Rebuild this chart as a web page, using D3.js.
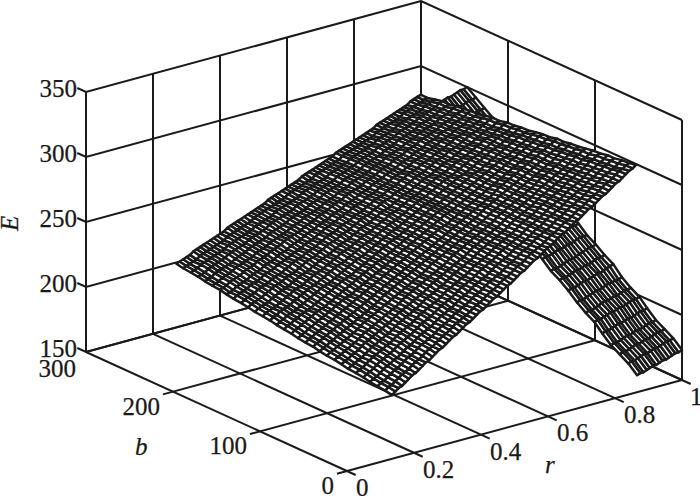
<!DOCTYPE html>
<html>
<head>
<meta charset="utf-8">
<script src="https://cdn.jsdelivr.net/npm/d3@7"></script>
<style>
  body { margin: 0; background: #fff; }
  text { font-family: "Liberation Serif", serif; font-size: 25px; fill: #1a1a1a; stroke: #1a1a1a; stroke-width: 0.25px; }
</style>
</head>
<body>
<div id="chart"></div>
<script>
// tick labels
var rTicks = [0, 0.2, 0.4, 0.6, 0.8, 1];
var bTicks = [0, 100, 200, 300];
var eTicks = [150, 200, 250, 300, 350];

// main sheet: one row per b, each row starts at its own r
var sheetB = [0,10,20,30,40,50,60,70,80,90,100,110,120,130,140,150,160,170,180,190,200,210,220,230,240,250,260,270,280,290,300];
var sheetRowStart = [0.134,0.140,0.143,0.147,0.153,0.157,0.160,0.166,0.171,0.174,0.179,0.185,0.188,0.192,0.198,0.202,0.206,0.212,0.216,0.219,0.225,0.230,0.233,0.238,0.244,0.247,0.251,0.257,0.261,0.264,0.270];
var sheetRStep = 0.010125;
var sheetE = [
[199,201,203,204,206,208,210,211,213,215,217,218,220,222,224,225,227,229,231,232,234,236,238,239,241,243,245,246,248,250,252,253,255,257,259,260,262,264,266,267,269,271,273,274,276,278,280,281,283,285,287,288,290,292,294,295,297,299,301,302,304,306,308,309,311,313,315,316,318,320,322,323,325],
[199,201,202,204,206,208,209,211,213,215,216,218,220,222,223,225,227,229,230,232,234,236,237,239,240,242,244,246,247,249,251,253,254,256,258,260,261,263,265,267,268,270,272,274,275,277,278,280,282,284,285,287,289,291,292,294,296,298,299,301,303,305,306,308,310,312,313,315,317,319,320,322,323],
[199,201,202,204,206,208,209,211,213,215,216,218,220,222,223,225,226,228,230,232,233,235,237,239,240,242,243,245,247,249,250,252,254,256,257,259,260,262,264,266,267,269,271,273,274,276,278,280,281,283,284,286,288,290,291,293,295,297,298,300,301,303,305,307,308,310,312,314,315,317,318,320,322],
[199,201,202,204,206,208,209,211,212,214,216,218,219,221,223,225,226,228,229,231,233,235,236,238,239,241,243,245,246,248,250,252,253,255,256,258,260,262,263,265,266,268,270,272,273,275,276,278,280,282,283,285,287,289,290,292,293,295,297,299,300,302,303,305,307,309,310,312,314,316,317,319,320],
[199,201,202,204,206,208,209,211,212,214,216,218,219,221,222,224,226,228,229,231,232,234,236,238,239,241,242,244,246,248,249,251,252,254,256,258,259,261,262,264,266,268,269,271,272,274,275,277,279,281,282,284,285,287,289,291,292,294,295,297,299,301,302,304,305,307,309,311,312,314,315,317,319],
[199,201,202,204,206,208,209,211,212,214,215,217,219,221,222,224,225,227,229,231,232,234,235,237,238,240,242,244,245,247,248,250,251,253,255,257,258,260,261,263,265,267,268,270,271,273,274,276,278,280,281,283,284,286,288,290,291,293,294,296,297,299,301,303,304,306,307,309,311,313,314,316,317],
[199,201,202,204,205,207,209,211,212,214,215,217,218,220,222,224,225,227,228,230,231,233,235,237,238,240,241,243,244,246,248,250,251,253,254,256,257,259,261,263,264,266,267,269,270,272,273,275,277,279,280,282,283,285,286,288,290,292,293,295,296,298,299,301,303,305,306,308,309,311,312,314,316],
[199,201,202,204,205,207,209,211,212,214,215,217,218,220,221,223,225,227,228,230,231,233,234,236,237,239,241,243,244,246,247,249,250,252,253,255,256,258,260,262,263,265,266,268,269,271,272,274,276,278,279,281,282,284,285,287,288,290,292,294,295,297,298,300,301,303,304,306,308,310,311,313,314],
[199,201,202,204,205,207,208,210,212,214,215,217,218,220,221,223,224,226,227,229,231,233,234,236,237,239,240,242,243,245,246,248,249,251,253,255,256,258,259,261,262,264,265,267,268,270,271,273,275,277,278,280,281,283,284,286,287,289,290,292,294,296,297,299,300,302,303,305,306,308,309,311,312],
[199,201,202,204,205,207,208,210,211,213,215,217,218,220,221,223,224,226,227,229,230,232,233,235,236,238,239,241,242,244,246,248,249,251,252,254,255,257,258,260,261,263,264,266,267,269,270,272,274,276,277,279,280,282,283,285,286,288,289,291,292,294,295,297,298,300,301,303,305,307,308,310,311],
[199,201,202,204,205,207,208,210,211,213,214,216,217,219,220,222,223,225,227,229,230,232,233,235,236,238,239,241,242,244,245,247,248,250,251,253,254,256,257,259,260,262,263,265,266,268,269,271,273,275,276,278,279,281,282,284,285,287,288,290,291,293,294,296,297,299,300,302,303,305,306,308,309],
[199,201,202,204,205,207,208,210,211,213,214,216,217,219,220,222,223,225,226,228,229,231,232,234,235,237,238,240,241,243,244,246,247,249,250,252,253,255,256,258,259,261,262,264,265,267,268,270,271,273,274,276,277,279,281,283,284,286,287,289,290,292,293,295,296,298,299,301,302,304,305,307,308],
[199,201,202,204,205,207,208,210,211,213,214,216,217,219,220,222,223,225,226,228,229,231,232,234,235,237,238,240,241,243,244,246,247,249,250,252,253,255,256,258,259,260,261,263,264,266,267,269,270,272,273,275,276,278,279,281,282,284,285,287,288,290,291,293,294,296,297,299,300,302,303,305,306],
[199,201,202,204,205,207,208,210,211,213,214,216,217,219,220,221,222,224,225,227,228,230,231,233,234,236,237,239,240,242,243,245,246,248,249,251,252,254,255,257,258,260,261,263,264,265,266,268,269,271,272,274,275,277,278,280,281,283,284,286,287,289,290,292,293,295,296,298,299,301,302,304,305],
[199,201,202,204,205,207,208,210,211,212,213,215,216,218,219,221,222,224,225,227,228,230,231,233,234,236,237,238,239,241,242,244,245,247,248,250,251,253,254,256,257,259,260,262,263,264,265,267,268,270,271,273,274,276,277,279,280,282,283,285,286,288,289,290,291,293,294,296,297,299,300,302,303],
[199,201,202,204,205,207,208,209,210,212,213,215,216,218,219,221,222,224,225,226,227,229,230,232,233,235,236,238,239,241,242,244,245,246,247,249,250,252,253,255,256,258,259,261,262,263,264,266,267,269,270,272,273,275,276,278,279,280,281,283,284,286,287,289,290,292,293,295,296,298,299,300,301],
[199,201,202,204,205,206,207,209,210,212,213,215,216,218,219,220,221,223,224,226,227,229,230,232,233,234,235,237,238,240,241,243,244,246,247,248,249,251,252,254,255,257,258,260,261,262,263,265,266,268,269,271,272,274,275,276,277,279,280,282,283,285,286,288,289,290,291,293,294,296,297,299,300],
[199,201,202,204,205,206,207,209,210,212,213,215,216,217,218,220,221,223,224,226,227,228,229,231,232,234,235,237,238,239,240,242,243,245,246,248,249,250,251,253,254,256,257,259,260,261,262,264,265,267,268,270,271,272,273,275,276,278,279,281,282,283,284,286,287,289,290,292,293,294,295,297,298],
[199,201,202,203,204,206,207,209,210,212,213,214,215,217,218,220,221,222,223,225,226,228,229,231,232,233,234,236,237,239,240,241,242,244,245,247,248,250,251,252,253,255,256,258,259,260,261,263,264,266,267,269,270,271,272,274,275,277,278,279,280,282,283,285,286,288,289,290,291,293,294,296,297],
[199,201,202,203,204,206,207,209,210,211,212,214,215,217,218,219,220,222,223,225,226,227,228,230,231,233,234,235,236,238,239,241,242,243,244,246,247,249,250,251,252,254,255,257,258,259,260,262,263,265,266,267,268,270,271,273,274,275,276,278,279,281,282,283,284,286,287,289,290,291,292,294,295],
[199,201,202,203,204,206,207,209,210,211,212,214,215,216,217,219,220,222,223,224,225,227,228,230,231,232,233,235,236,237,238,240,241,243,244,245,246,248,249,251,252,253,254,256,257,258,259,261,262,264,265,266,267,269,270,272,273,274,275,277,278,279,280,282,283,285,286,287,288,290,291,293,294],
[199,201,202,203,204,206,207,208,209,211,212,213,214,216,217,219,220,221,222,224,225,226,227,229,230,232,233,234,235,237,238,239,240,242,243,244,245,247,248,250,251,252,253,255,256,257,258,260,261,263,264,265,266,268,269,270,271,273,274,275,276,278,279,281,282,283,284,286,287,288,289,291,292],
[199,201,202,203,204,206,207,208,209,211,212,213,214,216,217,218,219,221,222,223,224,226,227,228,229,231,232,234,235,236,237,239,240,241,242,244,245,246,247,249,250,251,252,254,255,256,257,259,260,261,262,264,265,267,268,269,270,272,273,274,275,277,278,279,280,282,283,284,285,287,288,289,290],
[199,200,201,203,204,205,206,208,209,210,211,213,214,215,216,218,219,220,221,223,224,225,226,228,229,230,231,233,234,235,236,238,239,240,241,243,244,245,246,248,249,250,251,253,254,255,256,258,259,260,261,263,264,265,266,268,269,270,271,273,274,275,276,278,279,280,281,283,284,285,286,288,289],
[199,200,201,203,204,205,206,208,209,210,211,213,214,215,216,218,219,220,221,223,224,225,226,227,228,230,231,232,233,235,236,237,238,240,241,242,243,245,246,247,248,249,250,252,253,254,255,257,258,259,260,262,263,264,265,267,268,269,270,272,273,274,275,276,277,279,280,281,282,284,285,286,287],
[199,200,201,203,204,205,206,208,209,210,211,212,213,215,216,217,218,220,221,222,223,224,225,227,228,229,230,232,233,234,235,236,237,239,240,241,242,244,245,246,247,249,250,251,252,253,254,256,257,258,259,261,262,263,264,265,266,268,269,270,271,273,274,275,276,277,278,280,281,282,283,285,286],
[199,200,201,203,204,205,206,207,208,210,211,212,213,215,216,217,218,219,220,222,223,224,225,226,227,229,230,231,232,233,234,236,237,238,239,241,242,243,244,245,246,248,249,250,251,252,253,255,256,257,258,259,260,262,263,264,265,267,268,269,270,271,272,274,275,276,277,278,279,281,282,283,284],
[199,200,201,203,204,205,206,207,208,210,211,212,213,214,215,217,218,219,220,221,222,224,225,226,227,228,229,230,231,233,234,235,236,237,238,240,241,242,243,244,245,247,248,249,250,251,252,254,255,256,257,258,259,261,262,263,264,265,266,268,269,270,271,272,273,275,276,277,278,279,280,282,283],
[199,200,201,203,204,205,206,207,208,209,210,212,213,214,215,216,217,218,219,221,222,223,224,225,226,228,229,230,231,232,233,234,235,237,238,239,240,241,242,243,244,246,247,248,249,250,251,253,254,255,256,257,258,259,260,262,263,264,265,266,267,269,270,271,272,273,274,275,276,278,279,280,281],
[199,200,201,202,203,205,206,207,208,209,210,211,212,214,215,216,217,218,219,220,221,223,224,225,226,227,228,229,230,231,232,234,235,236,237,238,239,240,241,243,244,245,246,247,248,249,250,252,253,254,255,256,257,258,259,260,261,263,264,265,266,267,268,269,270,272,273,274,275,276,277,278,279],
[199,200,201,202,203,205,206,207,208,209,210,211,212,213,214,216,217,218,219,220,221,222,223,224,225,226,227,229,230,231,232,233,234,235,236,237,238,240,241,242,243,244,245,246,247,248,249,251,252,253,254,255,256,257,258,259,260,261,262,264,265,266,267,268,269,270,271,272,273,275,276,277,278]
];

// fin behind the sheet, high r end
var finR = [0.866,0.876,0.885,0.895,0.904,0.914,0.923,0.933,0.942,0.952,0.961,0.971,0.98,0.99,1];
var finB = [0,10,20,30,40,49,59,69,79,89,99,109,119,128,138,148,158,168,178,188,198,207,217,227,237,247];
var finE = [
[163,164,164,165,166,167,167,168,169,169,170,171,172,172,173],
[169,170,170,171,172,173,173,174,175,175,176,177,178,178,179],
[173,174,174,175,176,177,177,178,179,179,180,181,182,182,183],
[177,178,178,179,180,181,181,182,183,183,184,185,186,186,187],
[183,184,184,185,186,187,187,188,189,189,190,191,192,192,193],
[189,190,190,191,192,193,193,194,195,195,196,197,198,198,199],
[193,194,194,195,196,197,198,198,199,200,200,201,202,202,203],
[198,199,199,200,201,202,203,203,204,205,206,206,207,207,208],
[204,205,205,206,207,208,208,209,210,211,211,212,213,214,215],
[209,210,210,211,212,213,213,214,215,215,216,217,218,218,219],
[213,214,214,215,216,217,218,218,219,220,221,222,223,223,224],
[219,220,220,221,222,223,223,224,225,225,226,227,228,228,228],
[224,225,225,226,227,228,228,229,230,230,231,232,233,233,234],
[229,230,230,231,232,233,233,234,235,235,236,237,238,239,240],
[234,235,235,236,237,238,238,239,240,240,241,242,243,243,244],
[239,240,240,241,242,243,243,244,245,245,246,247,248,248,249],
[244,245,245,246,247,248,249,249,250,251,252,252,253,253,254],
[249,250,251,251,252,253,254,254,255,256,257,257,258,258,259],
[254,255,255,256,257,258,258,259,260,260,261,262,263,264,265],
[260,261,261,262,263,264,264,265,266,266,267,268,269,269,270],
[265,266,266,267,268,269,269,270,271,271,272,273,274,274,275],
[270,271,271,272,273,274,274,275,276,276,277,278,279,279,280],
[275,276,276,277,278,279,279,280,281,281,282,283,284,284,285],
[280,281,281,282,283,284,284,285,286,286,287,288,289,289,290],
[285,286,286,287,288,289,289,290,291,291,292,293,294,294,295],
[290,291,291,292,293,294,294,295,296,296,297,298,299,299,300]
];

var ink = "#1a1a1a";

var svg = d3.select("#chart").append("svg")
  .attr("width", 700)
  .attr("height", 496);

// oblique projection, front floor corner is r=0 b=0 E=150
var originX = 347, originY = 471;
var rX = d3.scaleLinear().domain([0, 1]).range([0, 335]);
var rY = d3.scaleLinear().domain([0, 1]).range([0, -91]);
var bX = d3.scaleLinear().domain([0, 300]).range([0, -261]);
var bY = d3.scaleLinear().domain([0, 300]).range([0, -119]);
var eY = d3.scaleLinear().domain([150, 350]).range([0, -260]);

function project(r, b, e) {
  return [originX + rX(r) + bX(b), originY + rY(r) + bY(b) + eY(e)];
}

var line = d3.line();

function drawLine(points) {
  svg.append("path")
    .attr("d", line(points.map(function (p) { return project(p[0], p[1], p[2]); })))
    .attr("fill", "none")
    .attr("stroke", ink)
    .attr("stroke-width", 2);
}

// walls
rTicks.forEach(function (r) {
  drawLine([[r, 300, 150], [r, 300, 350]]);
});
bTicks.forEach(function (b) {
  drawLine([[1, b, 150], [1, b, 350]]);
});
eTicks.forEach(function (e) {
  drawLine([[0, 310, e], [0, 300, e], [1, 300, e], [1, 0, e]]);
});

// floor
rTicks.forEach(function (r) {
  drawLine([[r, -10, 150], [r, 300, 150]]);
});
bTicks.forEach(function (b) {
  drawLine([[b < 300 ? -0.03 : 0, b, 150], [1, b, 150]]);
});

function drawMesh(cornerAt, rows, cols) {
  var g = svg.append("g")
    .attr("fill", "#fff")
    .attr("stroke", ink)
    .attr("stroke-width", 2.5)
    .attr("stroke-linejoin", "round");
  for (var i = rows - 2; i >= 0; i--) {
    for (var j = 0; j < cols - 1; j++) {
      g.append("path")
        .attr("d", line([cornerAt(i, j), cornerAt(i, j + 1), cornerAt(i + 1, j + 1), cornerAt(i + 1, j)]) + "Z");
    }
  }
}

drawMesh(function (i, j) {
  return project(finR[j], finB[i], finE[i][j]);
}, finB.length, finR.length);

drawMesh(function (i, j) {
  return project(sheetRowStart[i] + j * sheetRStep, sheetB[i], sheetE[i][j]);
}, sheetB.length, d3.min(sheetE, function (d) { return d.length; }));

// tick labels
eTicks.forEach(function (e) {
  var p = project(0, 300, e);
  svg.append("text").attr("x", p[0] - 9).attr("y", p[1] + 5)
    .attr("text-anchor", "end").text(e);
});
bTicks.forEach(function (b) {
  var p = project(0, b, 150);
  svg.append("text").attr("x", p[0] - (b == 300 ? 10 : 13)).attr("y", p[1] + (b == 300 ? 25 : 23))
    .attr("text-anchor", "end").text(b);
});
rTicks.forEach(function (r) {
  var p = project(r, 0, 150);
  svg.append("text").attr("x", p[0] + (r == 1 ? 8 : 9)).attr("y", p[1] + 25).text(r);
});

// axis names
svg.append("text").attr("x", 135).attr("y", 455)
  .style("font-style", "italic").text("b");
svg.append("text").attr("x", 545).attr("y", 473)
  .style("font-style", "italic").text("r");
svg.append("text")
  .attr("transform", "translate(18,231)rotate(-90)")
  .style("font-style", "italic").text("E");
</script>
</body>
</html>
